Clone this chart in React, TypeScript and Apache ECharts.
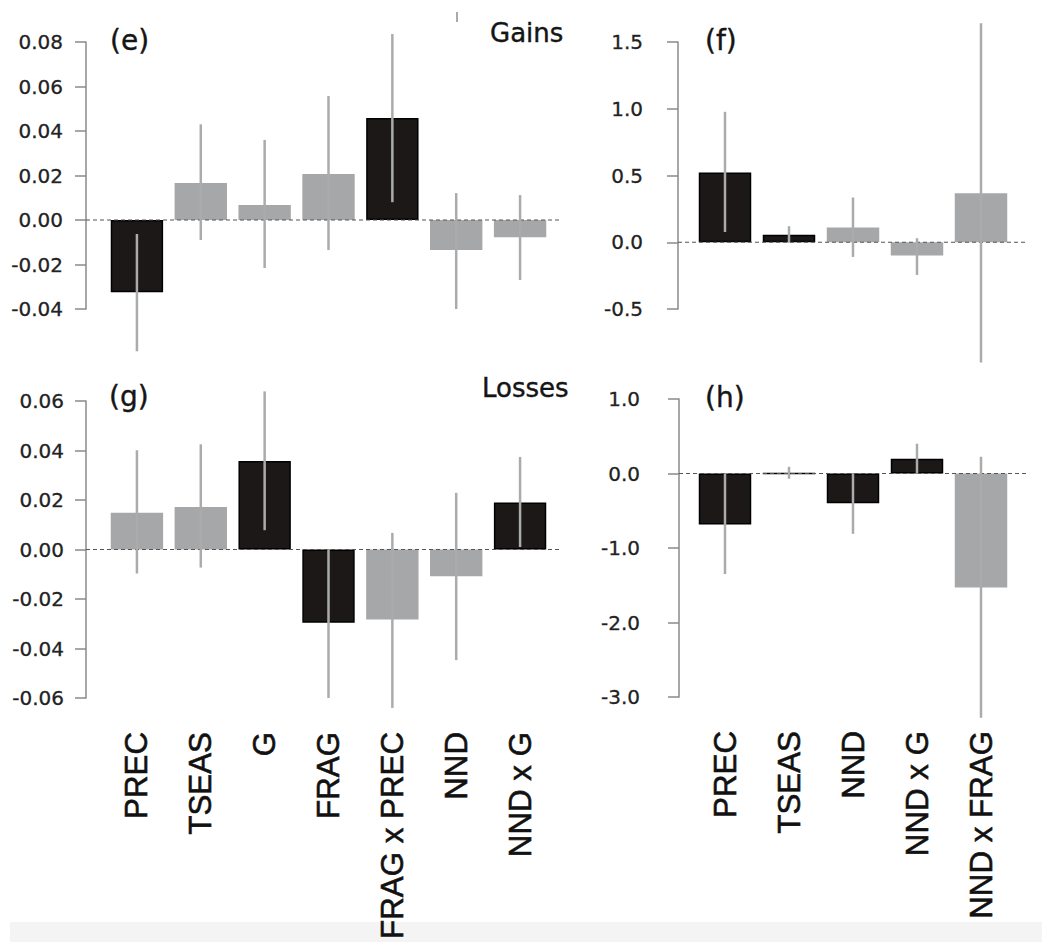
import React, { useEffect, useRef } from "react";
import * as echarts from "echarts";

// ---------- data ----------
const catsLeft = ["PREC", "TSEAS", "G", "FRAG", "FRAG x PREC", "NND", "NND x G"];
const catsRight = ["PREC", "TSEAS", "NND", "NND x G", "NND x FRAG"];

// (e) Gains, left
const gainsLeftVal = [-0.0325, 0.0166, 0.0067, 0.0207, 0.0458, -0.0135, -0.0077];
const gainsLeftLow = [-0.059, -0.009, -0.0216, -0.0135, 0.008, -0.04, -0.027];
const gainsLeftHigh = [-0.0063, 0.043, 0.036, 0.0557, 0.0836, 0.0121, 0.0112];
const gainsLeftSig = [true, false, false, false, true, false, false];

// (f) Gains, right
const gainsRightVal = [0.522, 0.057, 0.11, -0.1, 0.367];
const gainsRightLow = [0.077, 0.0, -0.11, -0.245, -0.9];
const gainsRightHigh = [0.977, 0.12, 0.335, 0.03, 1.64];
const gainsRightSig = [true, true, false, false, false];

// (g) Losses, left
const lossesLeftVal = [0.0148, 0.0172, 0.0358, -0.0296, -0.0283, -0.0108, 0.019];
const lossesLeftLow = [-0.0097, -0.0073, 0.0078, -0.06, -0.064, -0.0447, 0.001];
const lossesLeftHigh = [0.0401, 0.0425, 0.0639, 0.0, 0.0067, 0.0229, 0.0374];
const lossesLeftSig = [false, false, true, true, false, false, true];

// (h) Losses, right
const lossesRightVal = [-0.686, 0, -0.4, 0.197, -1.53];
const lossesRightLow = [-1.35, -0.07, -0.81, 0.0, -3.28];
const lossesRightHigh = [0.0, 0.09, 0.0, 0.4, 0.224];
const lossesRightSig = [true, true, true, true, false];

// axis ranges
const axE = { min: -0.04, max: 0.08, interval: 0.02, dec: 2 };
const axF = { min: -0.5, max: 1.5, interval: 0.5, dec: 1 };
const axG = { min: -0.06, max: 0.06, interval: 0.02, dec: 2 };
const axH = { min: -3, max: 1, interval: 1, dec: 1 };

const BLACK = "#1c1818";
const GREY = "#a5a7a9";
const ERR = "#ababab";
const TICK_FONT = "DejaVu Sans";
const CAT_FONT = "Liberation Sans";

export default function App() {
  const ref = useRef<HTMLDivElement>(null);

  useEffect(() => {
    if (!ref.current) return;
    const chart = echarts.init(ref.current, undefined, { renderer: "svg" });

    const grids = [
      { left: 105, top: 42, width: 447, height: 267 }, // e
      { left: 693, top: 42, width: 320, height: 267 }, // f
      { left: 105, top: 401, width: 447, height: 297 }, // g
      { left: 693, top: 399, width: 320, height: 298 }, // h
    ];
    const yOffsets = [19, 15, 19, 14];
    const labelMargins = [23, 35, 22, 39];
    const lineExt = [7, 15, 7, 15];
    const axes = [axE, axF, axG, axH];
    const cats = [catsLeft, catsRight, catsLeft, catsRight];
    const vals = [gainsLeftVal, gainsRightVal, lossesLeftVal, lossesRightVal];
    const lows = [gainsLeftLow, gainsRightLow, lossesLeftLow, lossesRightLow];
    const highs = [gainsLeftHigh, gainsRightHigh, lossesLeftHigh, lossesRightHigh];
    const sigs = [gainsLeftSig, gainsRightSig, lossesLeftSig, lossesRightSig];

    const xAxis = cats.map((c, k) => ({
      type: "category",
      gridIndex: k,
      data: c,
      boundaryGap: true,
      axisLine: { show: false },
      axisTick: { show: false },
      axisLabel: {
        show: k >= 2,
        rotate: 90,
        interval: 0,
        margin: 34,
        fontSize: 31.3,
        fontFamily: CAT_FONT,
        color: "#111",
        textBorderColor: "#111",
        textBorderWidth: 0.6,
      },
    }));

    const yAxis = axes.map((a, k) => ({
      type: "value",
      gridIndex: k,
      min: a.min,
      max: a.max,
      interval: a.interval,
      offset: yOffsets[k],
      splitLine: { show: false },
      axisLine: { show: true, lineStyle: { color: "#8a8a8a", width: 1.5 } },
      axisTick: { show: true, length: 11, lineStyle: { color: "#8a8a8a", width: 1.5 } },
      axisLabel: {
        margin: labelMargins[k],
        fontSize: 20,
        fontFamily: TICK_FONT,
        color: "#222",
        textBorderColor: "#333",
        textBorderWidth: 0.3,
        formatter: (v: number) => v.toFixed(a.dec),
      },
    }));

    const series: any[] = [];
    for (let k = 0; k < 4; k++) {
      series.push({
        type: "bar",
        xAxisIndex: k,
        yAxisIndex: k,
        barCategoryGap: "18%",
        clip: false,
        z: 2,
        data: vals[k].map((v, i) => ({
          value: v,
          itemStyle: sigs[k][i]
            ? { color: BLACK, borderColor: "#000", borderWidth: 1.5 }
            : { color: GREY, borderWidth: 0 },
        })),
      });
      const ext = lineExt[k];
      const off = yOffsets[k];
      series.push({
        type: "custom",
        xAxisIndex: k,
        yAxisIndex: k,
        clip: false,
        z: 3,
        data: [[0, 0]],
        renderItem: (params: any, api: any) => {
          const p = api.coord([0, 0]);
          const cs = params.coordSys;
          return {
            type: "line",
            shape: { x1: cs.x - off, y1: p[1], x2: cs.x + cs.width + ext, y2: p[1] },
            style: { stroke: "#555", lineWidth: 1.2, lineDash: [4, 3] },
          };
        },
      });
      series.push({
        type: "custom",
        xAxisIndex: k,
        yAxisIndex: k,
        clip: false,
        z: 4,
        encode: { x: 0, y: [1, 2] },
        data: lows[k].map((lo, i) => [i, lo, highs[k][i]]),
        renderItem: (params: any, api: any) => {
          const i = api.value(0);
          const a = api.coord([i, api.value(1)]);
          const b = api.coord([i, api.value(2)]);
          return {
            type: "line",
            shape: { x1: a[0], y1: a[1], x2: b[0], y2: b[1] },
            style: { stroke: ERR, lineWidth: 2.5 },
          };
        },
      });
    }

    const panelText = (text: string, x: number, y: number, size: number) => ({
      type: "text",
      x,
      y,
      style: {
        text,
        fontSize: size,
        fontFamily: TICK_FONT,
        fill: "#151515",
        stroke: "#151515",
        lineWidth: 0.4,
        textVerticalAlign: "middle",
        textAlign: "left",
      },
    });

    chart.setOption({
      animation: false,
      backgroundColor: "#ffffff",
      grid: grids.map((g) => ({ ...g, containLabel: false, outerBoundsMode: "none" })),
      xAxis,
      yAxis,
      series,
      graphic: [
        {
          type: "rect",
          z: -10,
          shape: { x: 10, y: 922, width: 1032, height: 20 },
          style: { fill: "#f4f4f4" },
        },
        {
          type: "line",
          shape: { x1: 457, y1: 12, x2: 457, y2: 22 },
          style: { stroke: "#aaa", lineWidth: 2 },
        },
        panelText("(e)", 110, 40, 28),
        panelText("(f)", 705, 40, 28),
        panelText("(g)", 109, 396, 28),
        panelText("(h)", 705, 397, 28),
        panelText("Gains", 490, 33, 26),
        panelText("Losses", 482, 388, 26),
      ],
    });

    return () => chart.dispose();
  }, []);

  return (
    <div
      ref={ref}
      style={{ position: "absolute", left: 0, top: 0, width: 1042, height: 942 }}
    />
  );
}
